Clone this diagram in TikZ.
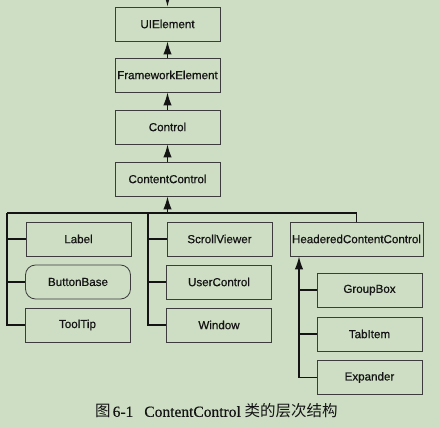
\documentclass[tikz,border=0pt]{standalone}
\usepackage{fontspec}
\setmainfont{Liberation Serif}[FakeBold=0.4]
\setsansfont{Liberation Sans}[FakeBold=0.6]
\newfontfamily\cjk{Noto Sans CJK SC}
\usetikzlibrary{arrows.meta}
\definecolor{bg}{RGB}{206,222,196}
\definecolor{ink}{RGB}{20,20,20}
\definecolor{edge}{RGB}{60,60,60}
\tikzset{
  box/.style={draw=edge, line width=0.8pt, minimum width=105pt, minimum height=34pt, inner sep=0pt,
    font=\sffamily\fontsize{11.6}{12}\selectfont, text=ink},
  rbox/.style={box, rounded corners=10pt},
  conn/.style={draw=ink, line width=1.5pt},
  arr/.style={conn, -{Latex[length=13pt,width=8.5pt]}},
}
\begin{document}
\begin{tikzpicture}[x=1pt,y=-1pt]
\fill[bg] (0,0) rectangle (440,428);
\useasboundingbox (0,0) rectangle (440,428);
% top chain
\node[box] (UI) at (167.5,24) {UIElement};
\node[box] (FE) at (167.5,75) {FrameworkElement};
\node[box] (CT) at (167.5,127) {Control};
\node[box] (CC) at (167.5,179) {ContentControl};
% left column
\node[box] (LB) at (78.5,239) {Label};
\node[rbox] (BB) at (78,282) {ButtonBase};
\node[box] (TT) at (77.5,325) {ToolTip};
% middle column
\node[box] (SV) at (219.5,239) {ScrollViewer};
\node[box] (UC) at (219,282) {UserControl};
\node[box] (WN) at (219,325) {Window};
% right
\node[box, minimum width=133pt] (HC) at (356.5,239) {HeaderedContentControl};
\node[box] (GB) at (369.5,290) {GroupBox};
\node[box] (TI) at (369.5,334) {TabItem};
\node[box] (EX) at (369.5,377.5) {Expander};
% coordinates
\coordinate (top) at (167.5,-2);
\coordinate (bus) at (167.5,213);
\coordinate (L) at (7,213);
\coordinate (M) at (148,213);
\coordinate (R) at (356.5,213);
\coordinate (H) at (299,378);
% arrows up chain
\draw[arr] (top) -- (UI.north);
\draw[arr] (FE.north) -- (UI.south);
\draw[arr] (CT.north) -- (FE.south);
\draw[arr] (CC.north) -- (CT.south);
\draw[arr] (bus) -- (CC.south);
% bus
\draw[conn] (L) -- (R) -- (HC.north);
\draw[conn] (L) |- (TT.west);
\draw[conn] (L |- LB.west) -- (LB.west);
\draw[conn] (L |- BB.west) -- (BB.west);
\draw[conn] (M) |- (WN.west);
\draw[conn] (M |- SV.west) -- (SV.west);
\draw[conn] (M |- UC.west) -- (UC.west);
% HCC subtree
\draw[arr] (EX.west) -| (H |- HC.south);
\draw[conn] (H |- GB.west) -- (GB.west);
\draw[conn] (H |- TI.west) -- (TI.west);
% caption
\node[anchor=west, font=\fontsize{15.5}{17}\selectfont, text=ink, inner sep=0pt] (cap) at (95,411)
  {{\cjk 图}\hspace{2pt}6-1\hspace{11pt}ContentControl {\cjk 类的层次结构}};
\end{tikzpicture}
\end{document}
